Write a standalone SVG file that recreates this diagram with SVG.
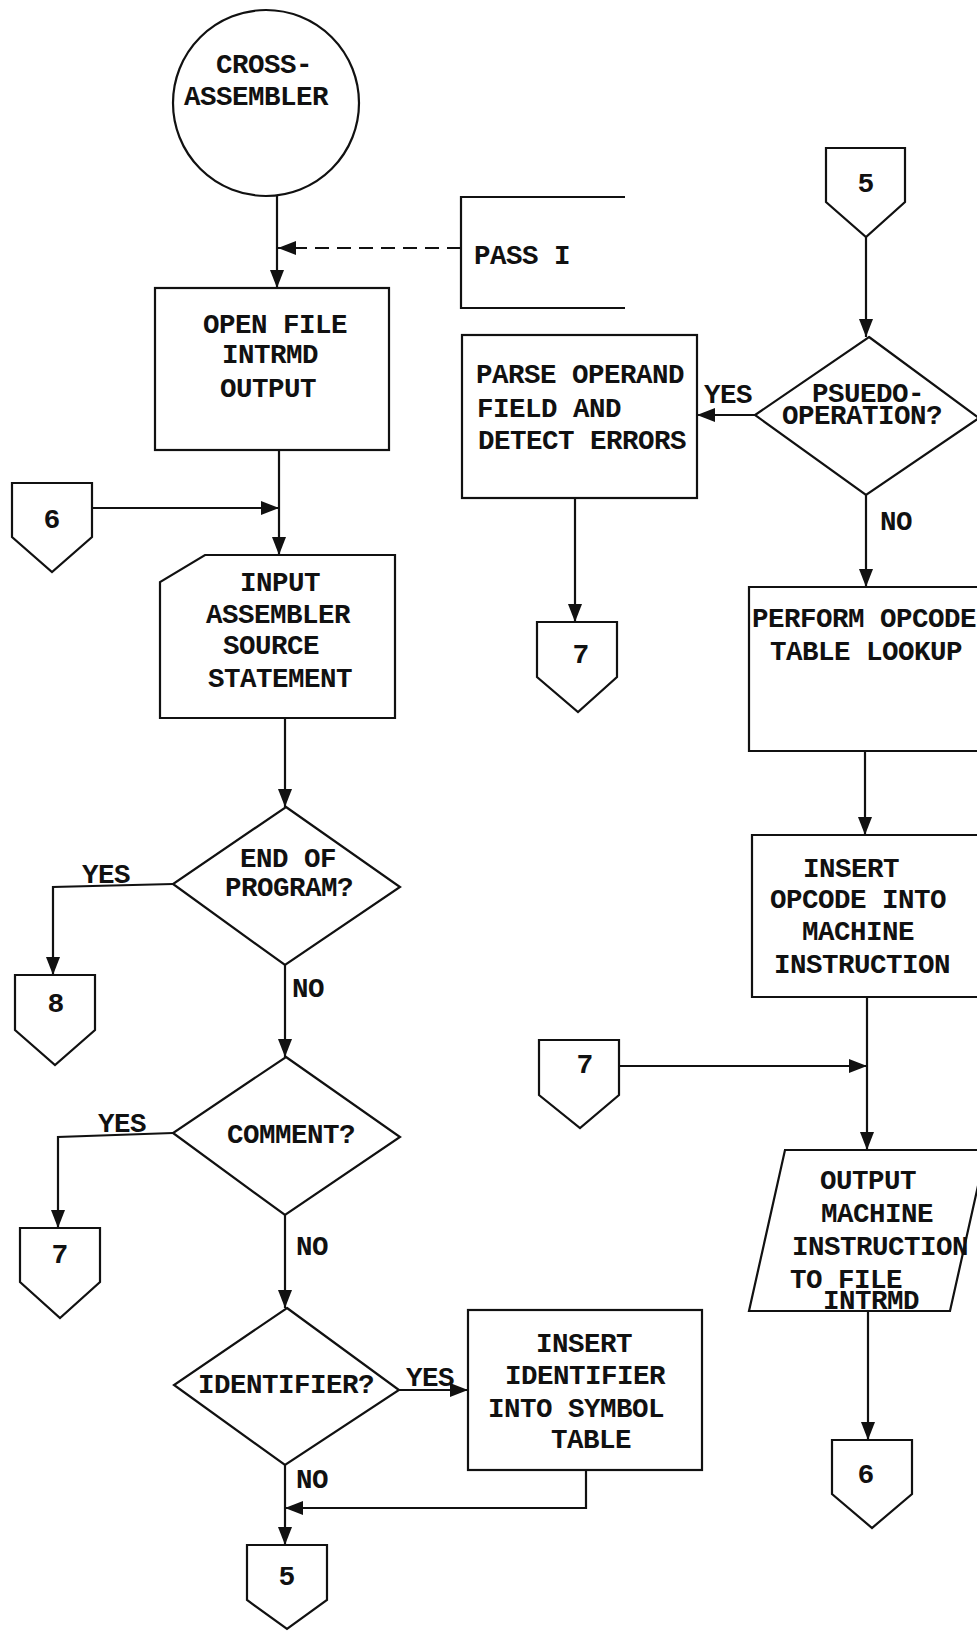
<svg xmlns="http://www.w3.org/2000/svg" width="977" height="1631" viewBox="0 0 977 1631">
  <defs>
    <marker id="arrow" viewBox="0 0 18 14" refX="18" refY="7" markerWidth="18" markerHeight="14" markerUnits="userSpaceOnUse" orient="auto">
      <path d="M0,0 L18,7 L0,14 Z" fill="#111"/>
    </marker>
    <style>
      .shape { fill: none; stroke: #111; stroke-width: 2.2; stroke-linejoin: miter; }
      .edge { fill: none; stroke: #111; stroke-width: 2.2; }
      .dash { stroke-dasharray: 14 8; }
      .t { font-family: "Liberation Mono", "Courier New", monospace; font-weight: bold; font-size: 27.5px; letter-spacing: -0.5px; fill: #111; }
      .num { font-family: "Liberation Mono", "Courier New", monospace; font-weight: bold; font-size: 28px; fill: #111; text-anchor: middle; }
    </style>
  </defs>

  <rect x="0" y="0" width="977" height="1631" fill="#ffffff"/>

  <!-- connectors -->
  <g id="connectors">
    <path class="edge" d="M277,196 V288" marker-end="url(#arrow)"/>
    <path class="edge dash" d="M461,248 H278" marker-end="url(#arrow)"/>
    <path class="edge" d="M92,508 H279" marker-end="url(#arrow)"/>
    <path class="edge" d="M279,450 V555" marker-end="url(#arrow)"/>
    <path class="edge" d="M285,718 V807" marker-end="url(#arrow)"/>
    <path class="edge" d="M173,884 L53,887 V975" marker-end="url(#arrow)"/>
    <path class="edge" d="M285,965 V1057" marker-end="url(#arrow)"/>
    <path class="edge" d="M173,1133 L58,1137 V1228" marker-end="url(#arrow)"/>
    <path class="edge" d="M285,1215 V1308" marker-end="url(#arrow)"/>
    <path class="edge" d="M399,1390 H468" marker-end="url(#arrow)"/>
    <path class="edge" d="M586,1470 V1508 H285" marker-end="url(#arrow)"/>
    <path class="edge" d="M285,1465 V1545" marker-end="url(#arrow)"/>

    <path class="edge" d="M866,237 V337" marker-end="url(#arrow)"/>
    <path class="edge" d="M755,415 H697" marker-end="url(#arrow)"/>
    <path class="edge" d="M575,498 V622" marker-end="url(#arrow)"/>
    <path class="edge" d="M866,495 V587" marker-end="url(#arrow)"/>
    <path class="edge" d="M865,751 V835" marker-end="url(#arrow)"/>
    <path class="edge" d="M867,997 V1150" marker-end="url(#arrow)"/>
    <path class="edge" d="M619,1066 H867" marker-end="url(#arrow)"/>
    <path class="edge" d="M868,1311 V1440" marker-end="url(#arrow)"/>

    <!-- branch labels -->
    <text class="t" x="82" y="883">YES</text>
    <text class="t" x="292" y="997">NO</text>
    <text class="t" x="98" y="1132">YES</text>
    <text class="t" x="296" y="1255">NO</text>
    <text class="t" x="406" y="1386">YES</text>
    <text class="t" x="296" y="1488">NO</text>
    <text class="t" x="704" y="403">YES</text>
    <text class="t" x="880" y="530">NO</text>
  </g>

  <!-- left column -->
  <g id="start">
    <circle class="shape" cx="266" cy="103" r="93"/>
    <text class="t" x="216" y="73">CROSS-</text>
    <text class="t" x="184" y="105">ASSEMBLER</text>
  </g>

  <g id="pass1">
    <path class="shape" d="M625,197 H461 V308 H625"/>
    <text class="t" x="474" y="264">PASS I</text>
  </g>

  <g id="open-file">
    <rect class="shape" x="155" y="288" width="234" height="162"/>
    <text class="t" x="203" y="333">OPEN FILE</text>
    <text class="t" x="222" y="363">INTRMD</text>
    <text class="t" x="220" y="397">OUTPUT</text>
  </g>

  <g id="conn-6-in">
    <path class="shape" d="M12,483 H92 V537 L52,572 L12,537 Z"/>
    <text class="num" x="52" y="528">6</text>
  </g>

  <g id="input-source">
    <path class="shape" d="M205,555 H395 V718 H160 V582 Z"/>
    <text class="t" x="240" y="591">INPUT</text>
    <text class="t" x="206" y="623">ASSEMBLER</text>
    <text class="t" x="223" y="654">SOURCE</text>
    <text class="t" x="208" y="687">STATEMENT</text>
  </g>

  <g id="end-of-program">
    <path class="shape" d="M286,807 L400,887 L285,965 L173,884 Z"/>
    <text class="t" x="240" y="867">END OF</text>
    <text class="t" x="225" y="896">PROGRAM?</text>
  </g>

  <g id="conn-8">
    <path class="shape" d="M15,975 H95 V1030 L55,1065 L15,1030 Z"/>
    <text class="num" x="56" y="1012">8</text>
  </g>

  <g id="comment">
    <path class="shape" d="M286,1057 L400,1137 L285,1215 L173,1133 Z"/>
    <text class="t" x="227" y="1143">COMMENT?</text>
  </g>

  <g id="conn-7-left">
    <path class="shape" d="M20,1228 H100 V1282 L60,1318 L20,1282 Z"/>
    <text class="num" x="60" y="1263">7</text>
  </g>

  <g id="identifier">
    <path class="shape" d="M287,1308 L399,1390 L285,1465 L174,1385 Z"/>
    <text class="t" x="198" y="1393">IDENTIFIER?</text>
  </g>

  <g id="insert-identifier">
    <rect class="shape" x="468" y="1310" width="234" height="160"/>
    <text class="t" x="536" y="1352">INSERT</text>
    <text class="t" x="505" y="1384">IDENTIFIER</text>
    <text class="t" x="488" y="1417">INTO SYMBOL</text>
    <text class="t" x="551" y="1448">TABLE</text>
  </g>

  <g id="conn-5-out">
    <path class="shape" d="M247,1545 H327 V1600 L287,1629 L247,1600 Z"/>
    <text class="num" x="287" y="1585">5</text>
  </g>

  <!-- right column -->
  <g id="conn-5-in">
    <path class="shape" d="M826,148 H905 V202 L866,237 L826,202 Z"/>
    <text class="num" x="866" y="192">5</text>
  </g>

  <g id="pseudo-op">
    <path class="shape" d="M869,337 L979,418 L866,495 L755,415 Z"/>
    <text class="t" x="812" y="402">PSUEDO-</text>
    <text class="t" x="782" y="424">OPERATION?</text>
  </g>

  <g id="parse-operand">
    <rect class="shape" x="462" y="335" width="235" height="163"/>
    <text class="t" x="476" y="383">PARSE OPERAND</text>
    <text class="t" x="477" y="417">FIELD AND</text>
    <text class="t" x="478" y="449">DETECT ERRORS</text>
  </g>

  <g id="conn-7-top">
    <path class="shape" d="M537,622 H617 V677 L578,712 L537,677 Z"/>
    <text class="num" x="581" y="663">7</text>
  </g>

  <g id="opcode-lookup">
    <path class="shape" d="M990,587 H749 V751 H990"/>
    <text class="t" x="752" y="627">PERFORM OPCODE</text>
    <text class="t" x="770" y="660">TABLE LOOKUP</text>
  </g>

  <g id="insert-opcode">
    <path class="shape" d="M990,835 H752 V997 H990"/>
    <text class="t" x="803" y="877">INSERT</text>
    <text class="t" x="770" y="908">OPCODE INTO</text>
    <text class="t" x="802" y="940">MACHINE</text>
    <text class="t" x="774" y="973">INSTRUCTION</text>
  </g>

  <g id="conn-7-mid">
    <path class="shape" d="M539,1040 H619 V1095 L580,1128 L539,1095 Z"/>
    <text class="num" x="585" y="1073">7</text>
  </g>

  <g id="output-instruction">
    <path class="shape" d="M785,1150 H986 L950,1311 H749 Z"/>
    <text class="t" x="820" y="1189">OUTPUT</text>
    <text class="t" x="821" y="1222">MACHINE</text>
    <text class="t" x="792" y="1255">INSTRUCTION</text>
    <text class="t" x="790" y="1288">TO FILE</text>
    <text class="t" x="823" y="1309">INTRMD</text>
  </g>

  <g id="conn-6-out">
    <path class="shape" d="M832,1440 H912 V1494 L872,1528 L832,1494 Z"/>
    <text class="num" x="866" y="1483">6</text>
  </g>
</svg>
